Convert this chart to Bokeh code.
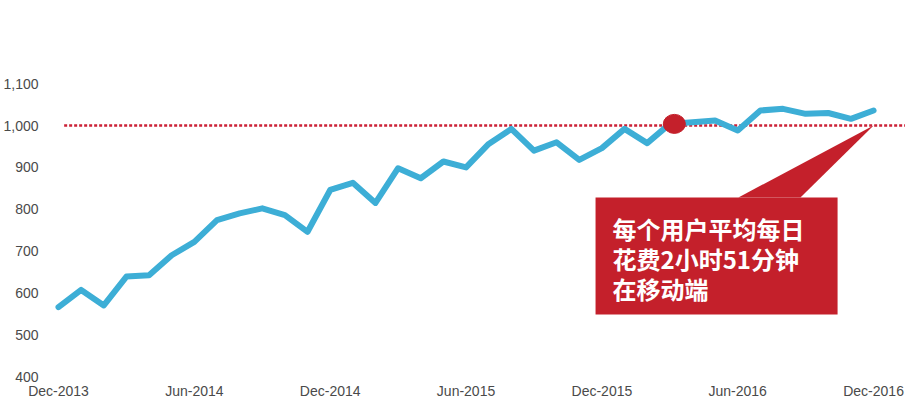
from bokeh.plotting import figure
from bokeh.models import FixedTicker, NumeralTickFormatter, Range1d
from bokeh.core.properties import value
from bokeh.embed import file_html
from bokeh.resources import INLINE

# ---- data ----
month_index = list(range(37))  # Dec-2013 .. Dec-2016
minutes = [566, 607, 570, 639, 642, 690, 722, 774, 790, 802, 786, 746,
           846, 863, 815, 898, 874, 914, 900, 956, 992, 940, 960, 918,
           946, 992, 958, 1004, 1008, 1012, 988, 1036, 1040, 1028, 1030, 1016, 1036]
tick_positions = [0, 6, 12, 18, 24, 30, 36]
tick_labels = ["Dec-2013", "Jun-2014", "Dec-2014", "Jun-2015", "Dec-2015", "Jun-2016", "Dec-2016"]
y_ticks = [400, 500, 600, 700, 800, 900, 1000, 1100]
ref_value = 1000
marker_index = 27
callout_lines = ["每个用户平均每日", "花费2小时51分钟", "在移动端"]

BLUE = "#3DAED6"
RED = "#C4202B"
GREY = "#4a4a4a"

p = figure(width=905, height=401, output_backend="svg", toolbar_location=None,
           x_range=Range1d(-0.53, 37.41), y_range=Range1d(400, 1299),
           min_border_left=46, min_border_right=0, min_border_top=0, min_border_bottom=0)
p.outline_line_color = None
p.grid.visible = False
p.background_fill_color = "white"
p.border_fill_color = "white"

# axes
p.xaxis.ticker = FixedTicker(ticks=tick_positions)
p.xaxis.major_label_overrides = {t: l for t, l in zip(tick_positions, tick_labels)}
p.yaxis.ticker = FixedTicker(ticks=y_ticks)
p.yaxis.formatter = NumeralTickFormatter(format="0,0")
for ax in (p.xaxis[0], p.yaxis[0]):
    ax.axis_line_color = None
    ax.major_tick_line_color = None
    ax.minor_tick_line_color = None
    ax.major_tick_out = 0
    ax.major_tick_in = 0
    ax.major_label_text_font = "Liberation Sans"
    ax.major_label_text_font_size = "14px"
    ax.major_label_text_color = GREY
p.xaxis.major_label_standoff = 6
p.yaxis.major_label_standoff = 8

# reference dotted line
p.segment(x0=[0.25], y0=[ref_value], x1=[month_index[-1] + 2], y1=[ref_value],
          line_color="#CC2036", line_width=2.6, line_dash="3 2")

# main line
p.line(month_index, minutes, line_color=BLUE, line_width=6, line_join="round", line_cap="round")

# marker dot
p.ellipse(x=[marker_index + 0.2], y=[minutes[marker_index]], width=22, height=19,
          width_units="screen", height_units="screen", fill_color=RED, line_color=RED)

# callout box and pointer
box_left, box_right, box_bottom, box_top = 23.72, 34.41, 548, 828
p.quad(left=[box_left], right=[box_right], bottom=[box_bottom], top=[box_top],
       fill_color=RED, line_color=None)
p.patch(x=[30.03, 32.77, month_index[-1]], y=[box_top, box_top, ref_value],
        fill_color=RED, line_color=None)

p.text(x=[24.47] * 3, y=[754, 682, 610], text=callout_lines,
       text_font=value("Noto Sans CJK SC"), text_font_size="24px", text_font_style="bold",
       text_color="white", text_baseline="middle", text_align="left")

open("out.html", "w").write(file_html(p, INLINE))
